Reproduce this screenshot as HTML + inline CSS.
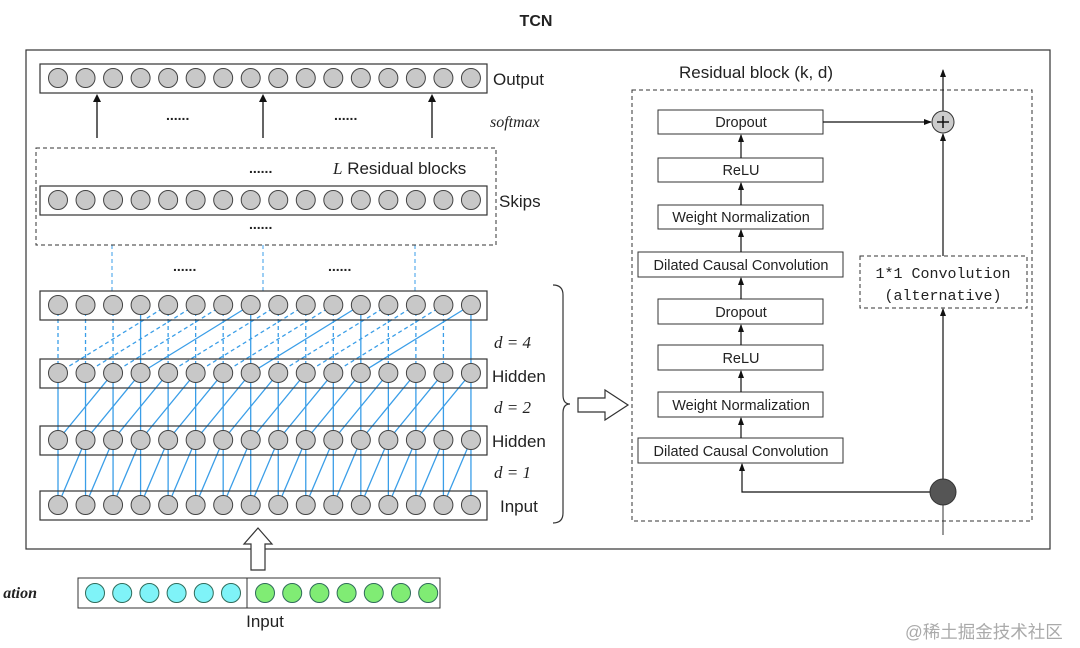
<!DOCTYPE html>
<html><head><meta charset="utf-8"><style>
html,body{margin:0;padding:0;background:#fff;width:1080px;height:648px;overflow:hidden}
svg{display:block}
text{font-family:"Liberation Sans",sans-serif;fill:#222}
.it{font-family:"Liberation Serif",serif;font-style:italic}
.mono{font-family:"Liberation Mono",monospace}
</style></head><body>
<svg id="s" width="1080" height="648" viewBox="0 0 1080 648" xmlns="http://www.w3.org/2000/svg">
<defs><marker id="ah" markerWidth="8" markerHeight="8" refX="7" refY="4" orient="auto" markerUnits="userSpaceOnUse"><path d="M0,1 L8,4 L0,7 z" fill="#111"/></marker></defs>
<text x="536" y="26" text-anchor="middle" font-size="16" font-weight="bold">TCN</text>
<rect x="26" y="50" width="1024" height="499" fill="none" stroke="#333" stroke-width="1.2"/>
<rect x="78" y="578" width="362" height="30" fill="#fff" stroke="#333"/>
<line x1="247" y1="578" x2="247" y2="608" stroke="#333"/>
<g id="left"></g>
<text x="493" y="85" font-size="17">Output</text>
<text x="490" y="127" font-size="16" class="it">softmax</text>
<text x="166" y="120" font-size="14" font-weight="bold">......</text>
<text x="334" y="120" font-size="14" font-weight="bold">......</text>
<rect x="36" y="148" width="460" height="97" fill="none" stroke="#333" stroke-dasharray="4,3"/>
<text x="249" y="173" font-size="14" font-weight="bold">......</text>
<text x="333" y="174" font-size="17"><tspan class="it">L</tspan> Residual blocks</text>
<text x="249" y="229" font-size="14" font-weight="bold">......</text>
<text x="499" y="207" font-size="17">Skips</text>
<text x="173" y="271" font-size="14" font-weight="bold">......</text>
<text x="328" y="271" font-size="14" font-weight="bold">......</text>
<text x="494" y="348" font-size="17" class="it">d = 4</text>
<text x="492" y="382" font-size="17">Hidden</text>
<text x="494" y="413" font-size="17" class="it">d = 2</text>
<text x="492" y="447" font-size="17">Hidden</text>
<text x="494" y="478" font-size="17" class="it">d = 1</text>
<text x="500" y="512" font-size="17">Input</text>
<path d="M553,285 Q563,285 563,295 L563,395 Q563,404 570,404 Q563,404 563,413 L563,513 Q563,523 553,523" fill="none" stroke="#333" stroke-width="1.2"/>
<path d="M578,398 L605,398 L605,390 L628,405 L605,420 L605,412 L578,412 z" fill="#fff" stroke="#333" stroke-width="1.2"/>
<path d="M251,570 L251,544 L244,544 L258,528 L272,544 L265,544 L265,570 z" fill="#fff" stroke="#333" stroke-width="1.2"/>
<text x="37" y="598" font-size="16" font-weight="bold" text-anchor="end" style="font-family:'Liberation Serif',serif;font-style:italic">ation</text>
<text x="265" y="627" font-size="17" text-anchor="middle">Input</text>
<text x="679" y="78" font-size="17">Residual block (k, d)</text>
<rect x="632" y="90" width="400" height="431" fill="none" stroke="#333" stroke-dasharray="4,3"/>
<g font-size="14.5" text-anchor="middle">
<rect x="658" y="110" width="165" height="24" fill="#fff" stroke="#333"/><text x="741" y="127">Dropout</text>
<rect x="658" y="158" width="165" height="24" fill="#fff" stroke="#333"/><text x="741" y="175">ReLU</text>
<rect x="658" y="205" width="165" height="24" fill="#fff" stroke="#333"/><text x="741" y="222">Weight Normalization</text>
<rect x="638" y="252" width="205" height="25" fill="#fff" stroke="#333"/><text x="741" y="270">Dilated Causal Convolution</text>
<rect x="658" y="299" width="165" height="25" fill="#fff" stroke="#333"/><text x="741" y="317">Dropout</text>
<rect x="658" y="345" width="165" height="25" fill="#fff" stroke="#333"/><text x="741" y="363">ReLU</text>
<rect x="658" y="392" width="165" height="25" fill="#fff" stroke="#333"/><text x="741" y="410">Weight Normalization</text>
<rect x="638" y="438" width="205" height="25" fill="#fff" stroke="#333"/><text x="741" y="456">Dilated Causal Convolution</text>
</g>
<g stroke="#111" stroke-width="1.2" marker-end="url(#ah)">
<line x1="741" y1="158" x2="741" y2="135"/>
<line x1="741" y1="205" x2="741" y2="183"/>
<line x1="741" y1="252" x2="741" y2="230"/>
<line x1="741" y1="299" x2="741" y2="278"/>
<line x1="741" y1="345" x2="741" y2="325"/>
<line x1="741" y1="392" x2="741" y2="371"/>
<line x1="741" y1="438" x2="741" y2="418"/>
<polyline points="930,492 742,492 742,464" fill="none"/>
<line x1="943" y1="479" x2="943" y2="309"/>
<line x1="943" y1="256" x2="943" y2="134"/>
<line x1="823" y1="122" x2="931" y2="122"/>
<line x1="943" y1="111" x2="943" y2="70"/>
</g>
<line x1="943" y1="505" x2="943" y2="535" stroke="#333"/>
<rect x="860" y="256" width="167" height="52" fill="#fff" stroke="#333" stroke-dasharray="4,3"/>
<text x="943" y="278" font-size="15" text-anchor="middle" class="mono">1*1 Convolution</text>
<text x="943" y="300" font-size="15" text-anchor="middle" class="mono">(alternative)</text>
<circle cx="943" cy="122" r="11" fill="#ccc" stroke="#333"/>
<path d="M937,122 H949 M943,116 V128" stroke="#111" stroke-width="1.5"/>
<circle cx="943" cy="492" r="13" fill="#555" stroke="#333"/>
<text x="905" y="638" font-size="17.5" style="fill:#aaa;font-family:'Liberation Sans','Noto Sans CJK SC',sans-serif">@稀土掘金技术社区</text>
</svg>
<script>
var g=document.getElementById('left'),NS='http://www.w3.org/2000/svg';
function el(t,a){var e=document.createElementNS(NS,t);for(var k in a)e.setAttribute(k,a[k]);g.appendChild(e);return e;}
var X=function(i){return 58+i*27.53;};
var rows=[78,200,305,373,440,505];
var blue='#3a9ee8';
[112,263,415].forEach(function(x){el('line',{x1:x,y1:245,x2:x,y2:292,stroke:blue,'stroke-dasharray':'4,3','stroke-width':1});});
[97,263,432].forEach(function(x){el('line',{x1:x,y1:138,x2:x,y2:100,stroke:'#111','stroke-width':1.3});el('path',{d:'M'+(x-4)+',102 L'+x+',94 L'+(x+4)+',102 z',fill:'#111'});});
function ln(x1,y1,x2,y2,d){var a={x1:x1,y1:y1,x2:x2,y2:y2,stroke:blue,'stroke-width':1.3};if(d)a['stroke-dasharray']='4,3';el('line',a);}
for(var i=0;i<16;i++){
 ln(X(i),440,X(i),505); if(i>0)ln(X(i),440,X(i-1),505);
 ln(X(i),373,X(i),440); if(i>1)ln(X(i),373,X(i-2),440);
 var solid=(i%4==3);
 ln(X(i),305,X(i),373,!solid); if(i>3)ln(X(i),305,X(i-4),373,!solid);
}
[[64,29],[186,29],[291,29],[359,29],[426,29],[491,29]].forEach(function(b){el('rect',{x:40,y:b[0],width:447,height:b[1],fill:'none',stroke:'#333','stroke-width':1.2});});
rows.forEach(function(y){for(var i=0;i<16;i++)el('circle',{cx:X(i),cy:y,r:9.5,fill:'#c8c8c8',stroke:'#444','stroke-width':1});});
for(var i=0;i<13;i++){var cx=i<6?95+i*27.2:265+(i-6)*27.2;el('circle',{cx:cx,cy:593,r:9.5,fill:i<6?'#7ff3f8':'#80ec74',stroke:'#2f6b5a','stroke-width':1});}
</script>
</body></html>
